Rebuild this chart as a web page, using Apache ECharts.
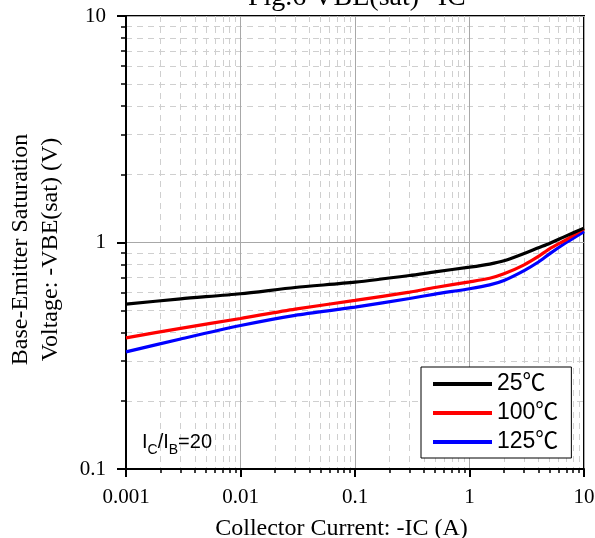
<!DOCTYPE html>
<html>
<head>
<meta charset="utf-8">
<script src="https://cdn.jsdelivr.net/npm/echarts@6/dist/echarts.min.js"></script>
<style>html,body{margin:0;padding:0;background:#fff;}#c{width:595px;height:538px;}</style>
</head>
<body>
<div id="c"></div>
<script>
const currents = [0.001, 0.003, 0.01, 0.03, 0.1, 0.3, 0.5, 1, 1.5, 2, 3, 4, 5, 7, 10];
const vbe25 = [0.534, 0.564, 0.594, 0.633, 0.668, 0.715, 0.742, 0.778, 0.803, 0.830, 0.895, 0.948, 0.990, 1.07, 1.157];
const vbe100 = [0.379, 0.418, 0.462, 0.508, 0.555, 0.604, 0.633, 0.670, 0.695, 0.727, 0.797, 0.868, 0.938, 1.03, 1.15];
const vbe125 = [0.329, 0.375, 0.430, 0.477, 0.518, 0.566, 0.592, 0.625, 0.650, 0.680, 0.752, 0.820, 0.891, 1.00, 1.118];
const seriesNames = ['25\u2103', '100\u2103', '125\u2103'];
const xTickLabels = ['0.001', '0.01', '0.1', '1', '10'];
const yTickLabels = ['0.1', '1', '10'];

const serif = "'Liberation Serif', 'Times New Roman', serif";
const sans = "'Liberation Sans', Arial, 'Noto Sans CJK SC', sans-serif";

function pair(ys) { return currents.map((x, i) => [x, ys[i]]); }
function fmt(list) { return function (v) { const s = String(+v.toPrecision(3)); return list.indexOf(s) >= 0 ? s : ''; }; }

const chart = echarts.init(document.getElementById('c'), null, {renderer: 'canvas'});
const colors = ['#000000', '#ff0000', '#0000ff'];
const datasets = [vbe25, vbe100, vbe125];

chart.setOption({
  animation: false,
  backgroundColor: '#ffffff',
  title: {
    text: 'Fig.6 VBE(sat)--IC',
    left: 243, top: -21,
    textStyle: {fontFamily: serif, fontSize: 28, fontWeight: 'normal', color: '#000'}
  },
  grid: {left: 126, right: 11, top: 16, bottom: 69, outerBoundsMode: 'none', containLabel: false,
    show: true, borderColor: '#000', borderWidth: 2, backgroundColor: 'transparent'},
  legend: {
    left: 421, top: 367, orient: 'vertical',
    data: seriesNames,
    icon: 'rect', itemWidth: 59, itemHeight: 4, itemGap: 5,
    padding: [5, 13, 4, 12],
    backgroundColor: '#fff', borderColor: '#000', borderWidth: 1,
    textStyle: {fontFamily: sans, fontSize: 23, lineHeight: 24, color: '#000'}
  },
  xAxis: {
    type: 'log', logBase: 10, min: 0.001, max: 10,
    name: 'Collector Current: -IC (A)', nameLocation: 'middle', nameGap: 48,
    nameTextStyle: {fontFamily: serif, fontSize: 24, color: '#000', padding: [0, 27, 0, 0]},
    axisLine: {show: true, lineStyle: {color: '#000', width: 2}},
    axisTick: {show: true, inside: false, length: 8, lineStyle: {color: '#000', width: 2}},
    minorTick: {show: true, splitNumber: 9, length: 4, lineStyle: {color: '#000', width: 1.5}},
    axisLabel: {fontFamily: serif, fontSize: 21, color: '#000', margin: 18, formatter: fmt(xTickLabels)},
    splitLine: {show: true, lineStyle: {color: '#a8a8a8', width: 1}},
    minorSplitLine: {show: true, lineStyle: {color: '#cfcfcf', width: 1, type: [6, 5]}}
  },
  yAxis: {
    type: 'log', logBase: 10, min: 0.1, max: 10,
    name: 'Base-Emitter Saturation\nVoltage: -VBE(sat) (V)', nameLocation: 'middle', nameGap: 60, nameRotate: 90,
    nameTextStyle: {fontFamily: serif, fontSize: 24, lineHeight: 30, color: '#000', align: 'center', padding: [0, 14, 0, 0]},
    axisLine: {show: true, lineStyle: {color: '#000', width: 2}},
    axisTick: {show: true, inside: false, length: 9, lineStyle: {color: '#000', width: 2}},
    minorTick: {show: true, splitNumber: 9, length: 5, lineStyle: {color: '#000', width: 1.5}},
    axisLabel: {fontFamily: serif, fontSize: 21, color: '#000', margin: 20, formatter: fmt(yTickLabels)},
    splitLine: {show: true, lineStyle: {color: '#a8a8a8', width: 1}},
    minorSplitLine: {show: true, lineStyle: {color: '#cfcfcf', width: 1, type: [6, 5]}}
  },
  graphic: [{
    type: 'text', left: 142, top: 432, z: 100,
    style: {
      text: '{a|I}{b|C}{a|/I}{b|B}{a|=20}',
      rich: {
        a: {fontFamily: sans, fontSize: 20, lineHeight: 20, verticalAlign: 'top', fill: '#000'},
        b: {fontFamily: sans, fontSize: 14, lineHeight: 14, padding: [11, 0, 0, 0], verticalAlign: 'top', fill: '#000'}
      }
    }
  }],
  series: datasets.map((d, i) => ({
    name: seriesNames[i], type: 'line', data: pair(d), smooth: 0.25,
    showSymbol: false, symbol: 'none', color: colors[i],
    lineStyle: {color: colors[i], width: 3.2}, z: 3 - i + 2
  }))
});
</script>
</body>
</html>
